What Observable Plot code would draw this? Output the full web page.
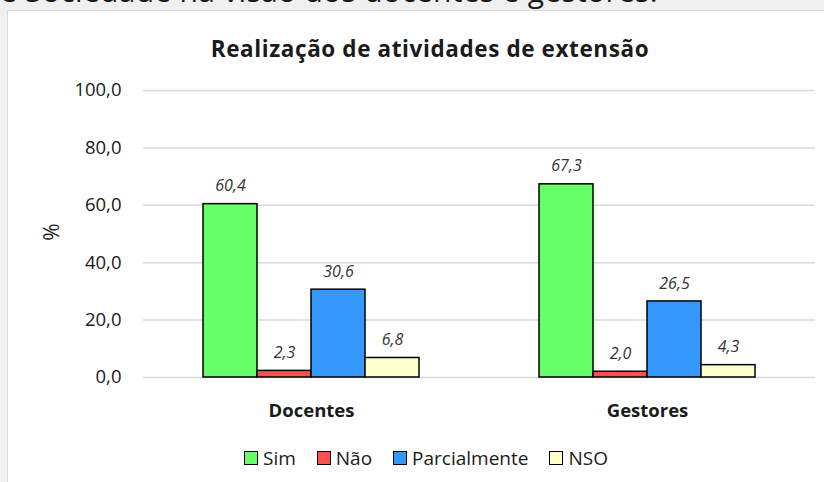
<!DOCTYPE html>
<html>
<head>
<meta charset="utf-8">
<script src="https://cdn.jsdelivr.net/npm/d3@7"></script>
<script src="https://cdn.jsdelivr.net/npm/@observablehq/plot@0.6"></script>
<style>
  html, body { margin: 0; padding: 0; }
  body { width: 824px; height: 482px; background: #f0f0f0; position: relative; overflow: hidden; font-family: "Open Sans", "Noto Sans", sans-serif; color: #1a1a1a; }
  #toptext { position: absolute; left: 0px; top: -24px; font-size: 30px; letter-spacing: 0.3px; line-height: 30px; white-space: nowrap; color: #1a1a1a; }
  #box { position: absolute; left: 7px; top: 10px; right: -2px; bottom: -2px; background: #fff; border-left: 1px solid #d9d9d9; border-top: 1px solid #d9d9d9; }
  #title { position: absolute; left: 0; width: 860px; top: 34px; text-align: center; font-size: 22.5px; letter-spacing: 0.6px; font-weight: bold; line-height: 30px; }
  #chart { position: absolute; left: 0; top: 0; }
  #pct { position: absolute; left: 42px; top: 220px; font-size: 21px; transform: rotate(-90deg); transform-origin: center; line-height: 24px; }
  #legend { position: absolute; top: 445px; left: 0; width: 852px; display: flex; justify-content: center; gap: 21px; font-size: 19px; line-height: 26px; }
  .item { display: flex; align-items: center; gap: 5px; }
  .sw { width: 12px; height: 12px; border: 1.5px solid #000; display: inline-block; }
</style>
</head>
<body>
<div id="toptext">e Sociedade na visão dos docentes e gestores.</div>
<div id="box"></div>
<div id="title">Realização de atividades de extensão</div>
<div id="chart"></div>
<div id="pct">%</div>
<div id="legend"></div>
<script>
const groups = ["Docentes", "Gestores"];
const series = ["Sim", "Não", "Parcialmente", "NSO"];
const docentes = [60.4, 2.3, 30.6, 6.8];
const gestores = [67.3, 2.0, 26.5, 4.3];
const colors = ["#66FF66", "#FF5050", "#3399FF", "#FFFFCC"];
const yTicks = [0, 20, 40, 60, 80, 100];

const data = [];
series.forEach((s, i) => data.push({group: groups[0], series: s, value: docentes[i]}));
series.forEach((s, i) => data.push({group: groups[1], series: s, value: gestores[i]}));

const fmt = d => d.toFixed(1).replace(".", ",");

const plot = Plot.plot({
  width: 824,
  height: 430,
  marginLeft: 143,
  marginRight: 9,
  marginTop: 90,
  marginBottom: 53,
  style: { background: "transparent", fontFamily: "'Open Sans', 'Noto Sans', sans-serif", color: "#1a1a1a" },
  fx: { domain: groups, padding: 0, label: null },
  x: { domain: series, paddingInner: 0, paddingOuter: 1.1, axis: null },
  y: { domain: [0, 100], label: null },
  color: { domain: series, range: colors },
  marks: [
    Plot.gridY(yTicks, { stroke: "#d9d9d9", strokeOpacity: 1, strokeWidth: 1.5 }),
    Plot.axisY(yTicks, { tickSize: 0, tickPadding: 22, fontSize: 18.5, tickFormat: fmt, label: null }),
    Plot.axisFx({ anchor: "bottom", tickSize: 0, tickPadding: 26, fontSize: 18.5, fontWeight: "bold", label: null }),
    Plot.barY(data, { fx: "group", x: "series", y: "value", fill: "series", stroke: "#000", strokeWidth: 1.5 }),
    Plot.text(data, { fx: "group", x: "series", y: "value", text: d => fmt(d.value), dy: -18, fontSize: 16, fontStyle: "italic", fill: "#333" })
  ]
});
document.getElementById("chart").appendChild(plot);

const legend = document.getElementById("legend");
series.forEach((s, i) => {
  const it = document.createElement("div");
  it.className = "item";
  const sw = document.createElement("span");
  sw.className = "sw";
  sw.style.background = colors[i];
  const t = document.createElement("span");
  t.textContent = s;
  it.appendChild(sw); it.appendChild(t);
  legend.appendChild(it);
});
</script>
</body>
</html>
